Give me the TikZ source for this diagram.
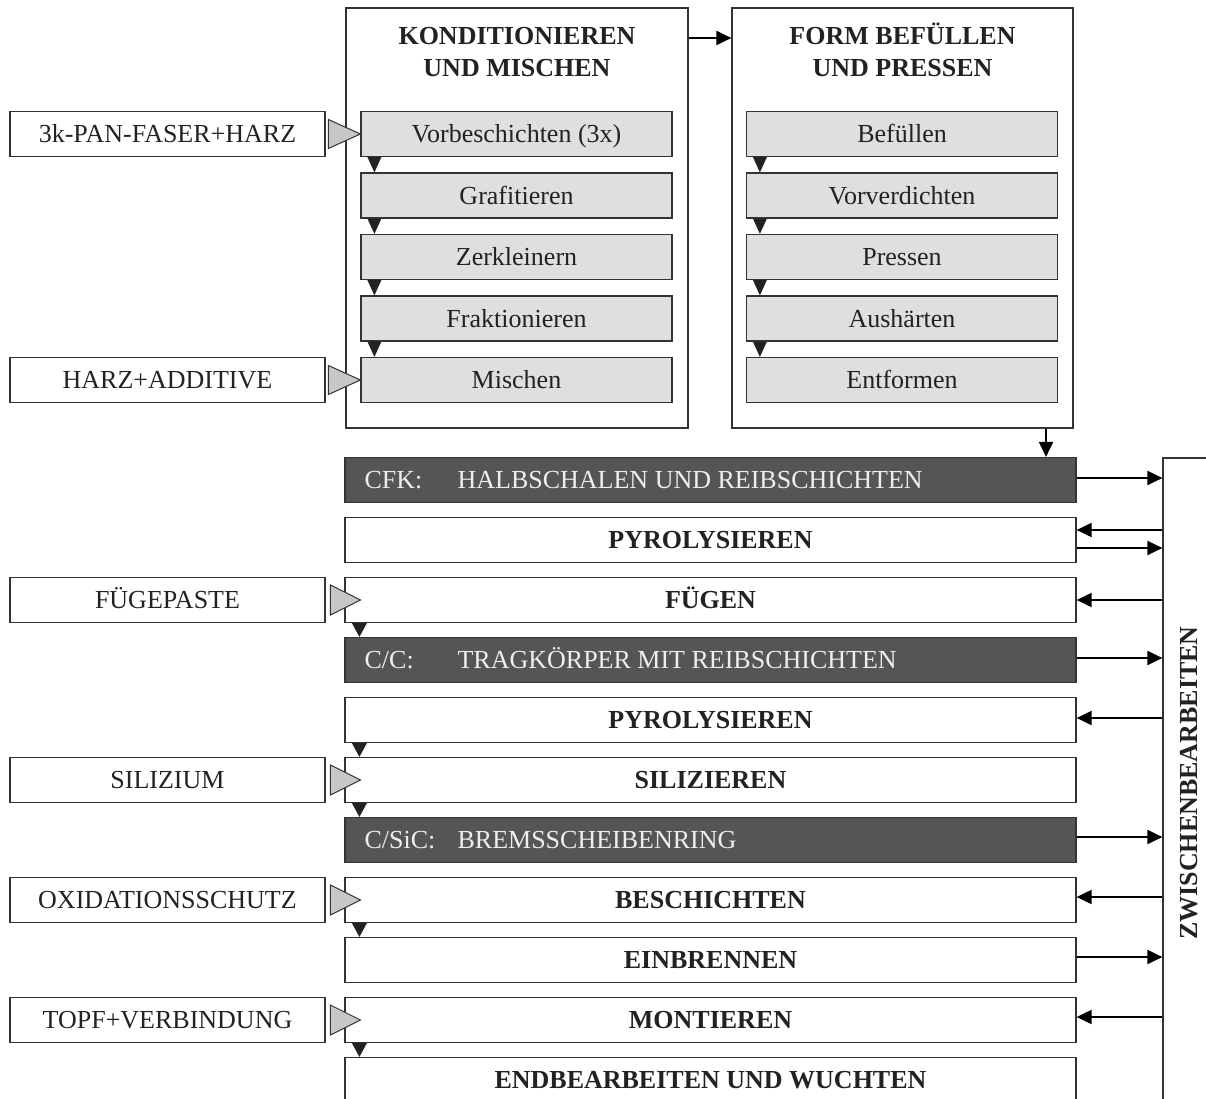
\documentclass[tikz,border=0pt]{standalone}
\usepackage{fontspec}
\setmainfont{Liberation Serif}
\usetikzlibrary{arrows.meta,calc}
\definecolor{ink}{HTML}{222222}
\definecolor{edgec}{HTML}{333333}
\definecolor{lightbox}{HTML}{DEDFE0}
\definecolor{darkfill}{HTML}{555555}
\definecolor{trifill}{HTML}{C6C7C8}
\definecolor{lighttext}{HTML}{EEEEEE}
\begin{document}
\begin{tikzpicture}[x=1pt,y=-1pt,
  lbl/.style={font=\fontsize{26}{30}\selectfont, text=ink, inner sep=0pt, text height=20pt, text depth=2.8pt},
  bigbox/.style={draw=edgec, line width=1.2pt, fill=white, inner sep=0pt},
  stepbox/.style={lbl, draw=edgec, line width=1.2pt, fill=lightbox, minimum width=311pt, minimum height=45pt},
  inbox/.style={lbl, draw=edgec, line width=1.2pt, fill=white, minimum width=315pt, minimum height=45pt},
  bar/.style={lbl, draw=edgec, line width=1.2pt, fill=white, minimum width=731pt, minimum height=45pt, font=\fontsize{26}{30}\selectfont\bfseries},
  dbar/.style={bar, fill=darkfill},
  dtext/.style={lbl, text=lighttext, anchor=west},
  title/.style={lbl, font=\fontsize{26}{30}\selectfont\bfseries},
  arr/.style={-{Triangle[length=15pt,width=14pt]}, line width=2pt, draw=black},
  downtri/.style={fill=ink},
  intri/.style={fill=trifill, draw=edgec, line width=1pt, line join=miter}
]
\useasboundingbox (0,0) rectangle (1206,1099);

% big boxes
\node[bigbox, minimum width=342pt, minimum height=420pt] (k1) at (517,218) {};
\node[bigbox, minimum width=341pt, minimum height=420pt] (k2) at (902.5,218) {};
\node[title] (t1a) at (517,36) {KONDITIONIEREN};
\node[title] (t1b) at (517,68) {UND MISCHEN};
\node[title] (t2a) at (902.5,36) {FORM BEFÜLLEN};
\node[title] (t2b) at (902.5,68) {UND PRESSEN};

% zwischenbearbeiten box
\node[bigbox, minimum width=52pt, minimum height=650pt] (zw) at (1189,783) {};
\node[title, rotate=90] (zwt) at (1189,783) {ZWISCHENBEARBEITEN};

% steps box 1
\node[stepbox] (a1) at (516.5,134) {Vorbeschichten (3x)};
\node[stepbox] (a2) at (516.5,195.5) {Grafitieren};
\node[stepbox] (a3) at (516.5,257) {Zerkleinern};
\node[stepbox] (a4) at (516.5,318.5) {Fraktionieren};
\node[stepbox] (a5) at (516.5,380) {Mischen};
% steps box 2
\node[stepbox] (b1) at (902,134) {Befüllen};
\node[stepbox] (b2) at (902,195.5) {Vorverdichten};
\node[stepbox] (b3) at (902,257) {Pressen};
\node[stepbox] (b4) at (902,318.5) {Aushärten};
\node[stepbox] (b5) at (902,380) {Entformen};

% input boxes
\node[inbox] (i1) at (167.5,134) {3k-PAN-FASER+HARZ};
\node[inbox] (i2) at (167.5,380) {HARZ+ADDITIVE};
\node[inbox] (i3) at (167.5,600) {FÜGEPASTE};
\node[inbox] (i4) at (167.5,780) {SILIZIUM};
\node[inbox] (i5) at (167.5,900) {OXIDATIONSSCHUTZ};
\node[inbox] (i6) at (167.5,1020) {TOPF+VERBINDUNG};

% bars
\node[dbar] (c1) at (710.5,480) {};
\node[dtext] (c1a) at ($(c1.west)+(20,0)$) {CFK:};
\node[dtext] (c1b) at ($(c1.west)+(113,0)$) {HALBSCHALEN UND REIBSCHICHTEN};
\node[bar] (c2) at (710.5,540) {PYROLYSIEREN};
\node[bar] (c3) at (710.5,600) {FÜGEN};
\node[dbar] (c4) at (710.5,660) {};
\node[dtext] (c4a) at ($(c4.west)+(20,0)$) {C/C:};
\node[dtext] (c4b) at ($(c4.west)+(113,0)$) {TRAGKÖRPER MIT REIBSCHICHTEN};
\node[bar] (c5) at (710.5,720) {PYROLYSIEREN};
\node[bar] (c6) at (710.5,780) {SILIZIEREN};
\node[dbar] (c7) at (710.5,840) {};
\node[dtext] (c7a) at ($(c7.west)+(20,0)$) {C/SiC:};
\node[dtext] (c7b) at ($(c7.west)+(113,0)$) {BREMSSCHEIBENRING};
\node[bar] (c8) at (710.5,900) {BESCHICHTEN};
\node[bar] (c9) at (710.5,960) {EINBRENNEN};
\node[bar] (c10) at (710.5,1020) {MONTIEREN};
\node[bar] (c11) at (710.5,1080) {ENDBEARBEITEN UND WUCHTEN};

% down triangles in box 1 and box 2
\foreach \p/\n in {a1/a2,a2/a3,a3/a4,a4/a5,b1/b2,b2/b3,b3/b4,b4/b5}{
  \fill[downtri] ($(\p.south west)+(7,0)$) -- ($(\p.south west)+(21,0)$) -- ($(\n.north west)+(14,0)$) -- cycle;
}
% down triangles between bars
\foreach \p/\n in {c3/c4,c5/c6,c6/c7,c8/c9,c10/c11}{
  \fill[downtri] ($(\p.south west)+(7.5,0)$) -- ($(\p.south west)+(22.5,0)$) -- ($(\n.north west)+(15,0)$) -- cycle;
}

% gray input triangles
\foreach \b in {a1,a5}{
  \filldraw[intri] ($(\b.west)+(-32,-14.5)$) -- ($(\b.west)+(-32,14.5)$) -- (\b.west) -- cycle;
}
\foreach \b in {c3,c6,c8,c10}{
  \filldraw[intri] ($(\b.west)+(-14,-15)$) -- ($(\b.west)+(-14,15)$) -- ($(\b.west)+(16,0)$) -- cycle;
}

% connectors
\draw[arr] ([yshift=180pt]k1.east) -- ([yshift=180pt]k2.west);
\draw[arr] ([xshift=143.5pt]k2.south) -- ([xshift=143.5pt]k2.south |- c1.north);

% right side arrows
\draw[arr] ([yshift=2pt]c1.east) -- ([yshift=2pt]c1.east -| zw.west);
\draw[arr] ([yshift=10pt]c2.east -| zw.west) -- ([yshift=10pt]c2.east);
\draw[arr] ([yshift=-8pt]c2.east) -- ([yshift=-8pt]c2.east -| zw.west);
\draw[arr] ([yshift=0pt]c3.east -| zw.west) -- ([yshift=0pt]c3.east);
\draw[arr] ([yshift=2pt]c4.east) -- ([yshift=2pt]c4.east -| zw.west);
\draw[arr] ([yshift=2pt]c5.east -| zw.west) -- ([yshift=2pt]c5.east);
\draw[arr] ([yshift=3pt]c7.east) -- ([yshift=3pt]c7.east -| zw.west);
\draw[arr] ([yshift=3pt]c8.east -| zw.west) -- ([yshift=3pt]c8.east);
\draw[arr] ([yshift=3pt]c9.east) -- ([yshift=3pt]c9.east -| zw.west);
\draw[arr] ([yshift=3pt]c10.east -| zw.west) -- ([yshift=3pt]c10.east);
\end{tikzpicture}
\end{document}
